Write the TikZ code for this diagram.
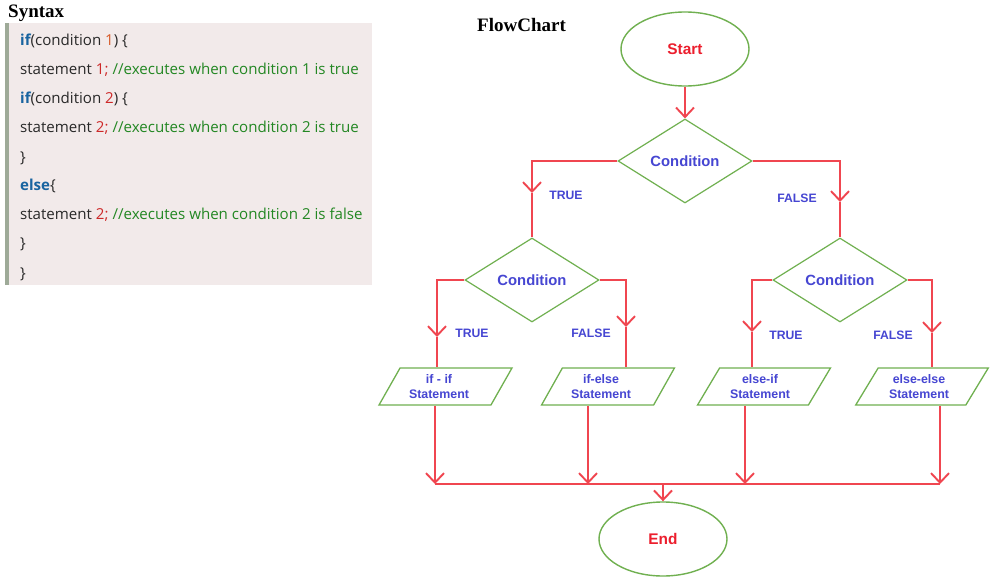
\documentclass[tikz,border=0pt]{standalone}
\usepackage{fontspec}
\setmainfont{Liberation Serif}
\newfontfamily\arialf{Liberation Sans}
\newfontfamily\codef{Open Sans}
\usetikzlibrary{shapes.geometric,arrows.meta}
\definecolor{lred}{RGB}{240,70,80}
\definecolor{lgreen}{RGB}{112,176,80}
\definecolor{lblue}{RGB}{70,70,210}
\definecolor{tred}{RGB}{236,30,45}
\definecolor{codebg}{RGB}{242,234,234}
\definecolor{codebar}{RGB}{158,170,152}
\definecolor{kw}{RGB}{25,100,160}
\definecolor{cnum}{RGB}{205,40,40}
\definecolor{cnumo}{RGB}{215,90,40}
\definecolor{ccom}{RGB}{35,135,35}
\definecolor{ctxt}{RGB}{40,40,40}
\begin{document}
\begin{tikzpicture}[x=1pt,y=-1pt,
 flow/.style={draw=lred,line width=1.9pt},
 arr/.style={flow,-{Straight Barb[length=9.5pt,width=18pt]}},
 term/.style={ellipse,draw=lgreen,line width=1.4pt,minimum width=128pt,minimum height=74pt,inner sep=0pt,text=tred,font=\arialf\bfseries\fontsize{15.4}{18}\selectfont},
 cond/.style={diamond,draw=lgreen,line width=1.2pt,minimum width=134pt,minimum height=84pt,inner sep=0pt,text=lblue,font=\arialf\bfseries\fontsize{14.8}{17}\selectfont},
 stmt/.style={trapezium,trapezium left angle=55,trapezium right angle=125,trapezium stretches=true,draw=lgreen,line width=1.3pt,minimum width=133pt,minimum height=37pt,inner sep=0pt,align=center,text=lblue,font=\arialf\bfseries\fontsize{12.4}{15}\selectfont},
 lab/.style={text=lblue,font=\arialf\bfseries\fontsize{12.2}{14}\selectfont,inner sep=0pt},
 code/.style={anchor=base west,inner sep=0pt,text=ctxt,font=\codef\fontsize{15.1}{18}\selectfont},
 title/.style={anchor=base west,inner sep=0pt,font=\bfseries\fontsize{19}{22}\selectfont}
]
\useasboundingbox (0,0) rectangle (997,581);
\fill[white] (0,0) rectangle (997,581);
% code box
\fill[codebg] (9,23) rectangle (372,285);
\fill[codebar] (5,23) rectangle (9,285);
\node[title] (syn) at (8,17) {Syntax};
\node[title] (fct) at (477,31) {FlowChart};
\node[code] (l1) at (20,45) {\textcolor{kw}{\bfseries if}(condition \textcolor{cnumo}{1}) \{};
\node[code] (l2) at (20,74) {statement \textcolor{cnum}{1;} \textcolor{ccom}{//executes when condition 1 is true}};
\node[code] (l3) at (20,103) {\textcolor{kw}{\bfseries if}(condition \textcolor{cnum}{2}) \{};
\node[code] (l4) at (20,132) {statement \textcolor{cnum}{2;} \textcolor{ccom}{//executes when condition 2 is true}};
\node[code] (l5) at (20,162) {\}};
\node[code] (l6) at (20,190) {\textcolor{kw}{\bfseries else}\{};
\node[code] (l7) at (20,219) {statement \textcolor{cnum}{2;} \textcolor{ccom}{//executes when condition 2 is false}};
\node[code] (l8) at (20,248) {\}};
\node[code] (l9) at (20,278) {\}};
% flowchart nodes
\node[term] (start) at (685,49) {Start};
\node[cond] (c1) at (685,161) {Condition};
\node[cond] (c2) at (532,280) {Condition};
\node[cond] (c3) at (840,280) {Condition};
\node[stmt] (p1) at (445.5,386.5) {if - if\hspace*{13pt}\\Statement\hspace*{13pt}};
\node[stmt] (p2) at (608,386.5) {if-else\hspace*{14pt}\\Statement\hspace*{14pt}};
\node[stmt] (p3) at (764,386.5) {else-if\hspace*{8pt}\\Statement\hspace*{8pt}};
\node[stmt] (p4) at (922,386.5) {else-else\hspace*{6pt}\\Statement\hspace*{6pt}};
\node[term] (end) at (663,539) {End};
% labels
\node[lab] (t1) at (566,195) {TRUE};
\node[lab] (f1) at (797,198) {FALSE};
\node[lab] (t2) at (472,333) {TRUE};
\node[lab] (f2) at (591,333) {FALSE};
\node[lab] (t3) at (786,335) {TRUE};
\node[lab] (f3) at (893,335) {FALSE};
% helper coordinates
\coordinate (m1) at (532,193);
\coordinate (m2) at (840,202);
\coordinate (m3) at (437,337);
\coordinate (m4) at (626,327);
\coordinate (m5) at (752,332);
\coordinate (m6) at (932,333);
\coordinate (b1) at (435,484);
\coordinate (b2) at (588,484);
\coordinate (b3) at (745,484);
\coordinate (b4) at (940,484);
\coordinate (bm) at (663,484);
% connectors
\draw[arr] (start.south) -- (c1.north);
\draw[arr] (c1.west) -| (m1);
\draw[flow] (m1) -- (c2.north);
\draw[arr] (c1.east) -| (m2);
\draw[flow] (m2) -- (c3.north);
\draw[arr] (c2.west) -| (m3);
\draw[flow] (m3) -- (m3 |- p1.north);
\draw[arr] (c2.east) -| (m4);
\draw[flow] (m4) -- (m4 |- p2.north);
\draw[arr] (c3.west) -| (m5);
\draw[flow] (m5) -- (m5 |- p3.north);
\draw[arr] (c3.east) -| (m6);
\draw[flow] (m6) -- (m6 |- p4.north);
\draw[arr] (b1 |- p1.south) -- (b1);
\draw[arr] (b2 |- p2.south) -- (b2);
\draw[arr] (b3 |- p3.south) -- (b3);
\draw[arr] (b4 |- p4.south) -- (b4);
\draw[flow] (b1) -- (b4);
\draw[arr] (bm) -- (end.north);
\end{tikzpicture}
\end{document}
